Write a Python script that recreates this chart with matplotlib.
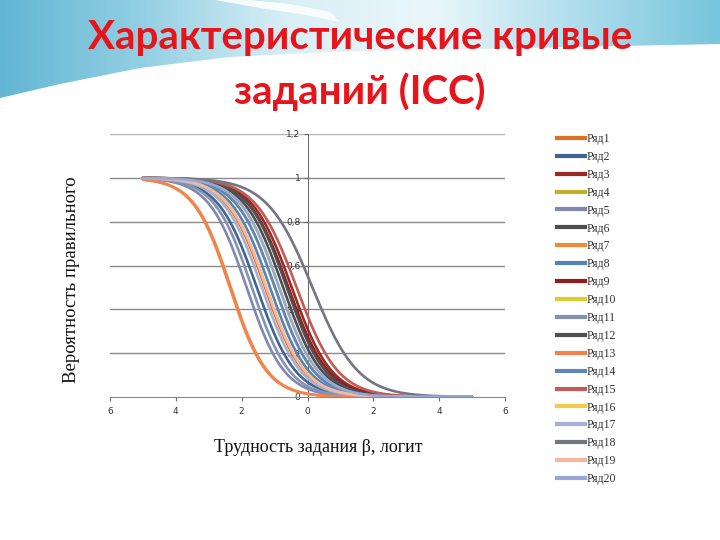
import numpy as np
import matplotlib
matplotlib.use("Agg")
import matplotlib.pyplot as plt
from matplotlib.lines import Line2D
from matplotlib.colors import LinearSegmentedColormap

# ---- data ----
series_names = [f"Ряд{i}" for i in range(1, 21)]
# logit position where each curve crosses P = 0.5
item_location = [-1.29, -1.54, -0.48, -0.99, -1.85, -0.74, -2.36, -1.14, -0.58, -0.86,
                 -1.69, -0.63, -2.33, -0.99, -0.33, -1.25, -1.39, 0.15, -1.25, -0.86]
# steepness of each curve
item_slope = [1.7, 1.7, 1.65, 1.7, 1.75, 1.7, 1.8, 1.7, 1.65, 1.7,
              1.75, 1.7, 1.8, 1.7, 1.6, 1.7, 1.7, 1.45, 1.7, 1.7]
series_colors = ["#E0701E", "#3F6590", "#9B2B22", "#C0B02A", "#8088B0",
                 "#4E4E50", "#F08A3C", "#5582BA", "#8E1F1A", "#E0CC30",
                 "#8492B4", "#505055", "#F2834F", "#5F86B8", "#C45A55",
                 "#F2CB4A", "#A7AFD6", "#737680", "#F3B99E", "#96A8D6"]
x_range = (-5, 5)
x_ticks = [-6, -4, -2, 0, 2, 4, 6]
x_tick_labels = ["6", "4", "2", "0", "2", "4", "6"]
y_ticks = [0, 0.2, 0.4, 0.6, 0.8, 1.0, 1.2]
y_tick_labels = ["0", "0,2", "0,4", "0,6", "0,8", "1", "1,2"]

fig = plt.figure(figsize=(7.2, 5.4), dpi=100)

# ---- slide background decoration ----
bg = fig.add_axes([0, 0, 1, 1], zorder=-5)
bg.set_xlim(0, 720)
bg.set_ylim(540, 0)
bg.axis("off")
gx = np.linspace(0, 1, 300)
grad = np.vstack([gx] * 2)
cmap = LinearSegmentedColormap.from_list(
    "slide", ["#62B6D4", "#94D0E3", "#D9EFF6", "#EAF7FA", "#B0DEEC", "#78C5DD"])
bg.imshow(grad, extent=[0, 720, 120, 0], aspect="auto", cmap=cmap, zorder=0)
bx = np.array([0, 60, 140, 230, 330, 430, 530, 620, 720, 720, 0])
by = np.array([98, 84, 68, 57, 52, 50, 48, 46, 44, 540, 540])
bg.fill(bx, by, color="white", zorder=1, lw=0)
sx = np.array([215, 260, 300, 340, 330, 290, 250])
sy = np.array([0, 8, 14, 22, 12, 4, 0])
bg.fill(sx, sy, color="white", alpha=0.85, zorder=1, lw=0)

# ---- title ----
fig.text(0.5, 1 - 37 / 540, "Характеристические кривые", ha="center", va="center",
         fontsize=29, fontweight="bold", color="#E8141B", family="Lato")
fig.text(0.5, 1 - 92 / 540, "заданий (ICC)", ha="center", va="center",
         fontsize=29, fontweight="bold", color="#E8141B", family="Lato")

# ---- chart ----
ax = fig.add_axes([110 / 720, 1 - 397 / 540, 395 / 720, 263 / 540])
ax.set_xlim(-6, 6)
ax.set_ylim(0, 1.2)
ax.patch.set_alpha(0)

for yv in y_ticks[1:]:
    ax.axhline(yv, color="#8a8a8a" if yv < 1.1 else "#b5b5b5", lw=1.0, zorder=1)

xs = np.linspace(x_range[0], x_range[1], 400)
handles = []
for name, loc, a, col in zip(series_names, item_location, item_slope, series_colors):
    p = 1.0 / (1.0 + np.exp(a * (xs - loc)))
    ax.plot(xs, p, color=col, lw=1.9, zorder=3, solid_capstyle="round")
    handles.append(Line2D([], [], color=col, lw=3.0))

ax.spines["left"].set_position(("data", 0))
ax.spines["left"].set_color("#6e6e6e")
ax.spines["left"].set_zorder(2)
ax.spines["bottom"].set_color("#8a8a8a")
ax.spines["top"].set_visible(False)
ax.spines["right"].set_visible(False)
ax.set_xticks(x_ticks)
ax.set_xticklabels(x_tick_labels)
ax.set_yticks(y_ticks)
ax.set_yticklabels(y_tick_labels)
ax.tick_params(axis="both", labelsize=6.5, colors="#6e6e6e", labelcolor="#333333",
               length=3, width=0.8)
for lbl in ax.get_xticklabels() + ax.get_yticklabels():
    lbl.set_family("DejaVu Sans")
ax.tick_params(axis="y", pad=2)
ax.tick_params(axis="x", pad=4)

fig.text(72 / 720, 1 - 280 / 540, "Вероятность правильного", rotation=90,
         ha="center", va="center", fontsize=13.5, family="Liberation Serif", color="#111111")
fig.text(318 / 720, 1 - 447 / 540, "Трудность задания β, логит",
         ha="center", va="center", fontsize=13, family="Liberation Serif", color="#111111")

leg = fig.legend(handles, series_names, loc="upper left",
                 bbox_to_anchor=(557 / 720, 1 - 133 / 540), frameon=False,
                 prop={"family": "Liberation Serif", "size": 8.5},
                 handlelength=2.35, handletextpad=0.17, labelspacing=0.50,
                 borderaxespad=0, borderpad=0)
for t in leg.get_texts():
    t.set_color("#333333")

fig.savefig("out.png", dpi=100)
